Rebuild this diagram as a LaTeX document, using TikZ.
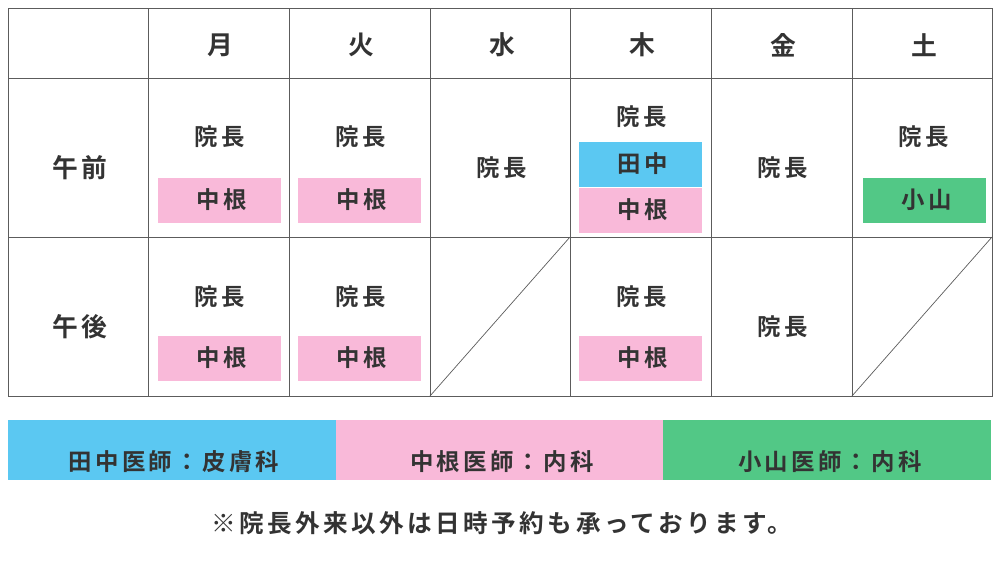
\documentclass[tikz,border=0pt]{standalone}
\usepackage{fontspec}
\newfontfamily\jp{Noto Sans CJK JP}[BoldFont={Noto Sans CJK JP Bold}, LetterSpace=14]
\definecolor{tanaka}{HTML}{5BC8F2}
\definecolor{nakane}{HTML}{F9B9D9}
\definecolor{koyama}{HTML}{52C886}
\definecolor{ink}{HTML}{333333}
\tikzset{
  txt/.style={text=ink, font=\jp\bfseries\fontsize{20}{23}\selectfont},
  big/.style={txt, font=\jp\bfseries\fontsize{22}{26}\selectfont},
  badge/.style={txt, inner sep=0pt, minimum width=36.9mm, minimum height=13.5mm},
  legend/.style={inner sep=0pt, anchor=north west, minimum width=98.4mm, minimum height=18mm},
}
\begin{document}
\begin{tikzpicture}[x=0.3mm, y=-0.3mm]
  \useasboundingbox (0,0) rectangle (1000,562);
  % grid
  \draw[ink!80, line width=0.6pt] (8,8) rectangle (992,396);
  \foreach \x in {148,289,430,570,711,852}
    \draw[ink!80, line width=0.6pt] (\x,8) -- (\x,396);
  \foreach \y in {78,237}
    \draw[ink!80, line width=0.6pt] (8,\y) -- (992,\y);
  \draw[ink!80, line width=0.6pt] (430,396) -- (570,237);
  \draw[ink!80, line width=0.6pt] (852,396) -- (992,237);
  % header
  \node[big] (mon) at (220,45) {月};
  \node[big] (tue) at (361,45) {火};
  \node[big] (wed) at (502,45) {水};
  \node[big] (thu) at (642,45) {木};
  \node[big] (fri) at (783,45) {金};
  \node[big] (sat) at (924,45) {土};
  \node[big] (am) at (80,168) {午前};
  \node[big] (pm) at (80,327) {午後};
  % morning
  \node[txt] (am1) at (220,137) {院長};
  \node[badge, fill=nakane] (am1b) at (219,200) {\hspace{5pt}中根};
  \node[txt] (am2) at (361,137) {院長};
  \node[badge, fill=nakane] (am2b) at (359,200) {\hspace{5pt}中根};
  \node[txt] (am3) at (502,168) {院長};
  \node[txt] (am4) at (642,117) {院長};
  \node[badge, fill=tanaka] (am4a) at (640,164) {\hspace{5pt}田中};
  \node[badge, fill=nakane] (am4b) at (640,210) {\hspace{5pt}中根};
  \node[txt] (am5) at (783,168) {院長};
  \node[txt] (am6) at (924,137) {院長};
  \node[badge, fill=koyama] (am6b) at (924,200) {\hspace{5pt}小山};
  % afternoon
  \node[txt] (pm1) at (220,297) {院長};
  \node[badge, fill=nakane] (pm1b) at (219,358) {\hspace{5pt}中根};
  \node[txt] (pm2) at (361,297) {院長};
  \node[badge, fill=nakane] (pm2b) at (359,358) {\hspace{5pt}中根};
  \node[txt] (pm4) at (642,297) {院長};
  \node[badge, fill=nakane] (pm4b) at (640,358) {\hspace{5pt}中根};
  \node[txt] (pm5) at (783,327) {院長};
  % legend
  \node[legend, fill=tanaka] (lg1) at (8,420) {};
  \node[legend, fill=nakane] (lg2) at (336,420) {};
  \node[legend, fill=koyama] (lg3) at (663,420) {};
  \node[txt] (lg1t) at (174,462) {田中医師：皮膚科};
  \node[txt] (lg2t) at (502,462) {中根医師：内科};
  \node[txt] (lg3t) at (830,462) {小山医師：内科};
  \node[txt, font=\jp\bfseries\fontsize{21}{24}\selectfont] (note) at (502,523) {※院長外来以外は日時予約も承っております。};
\end{tikzpicture}
\end{document}
